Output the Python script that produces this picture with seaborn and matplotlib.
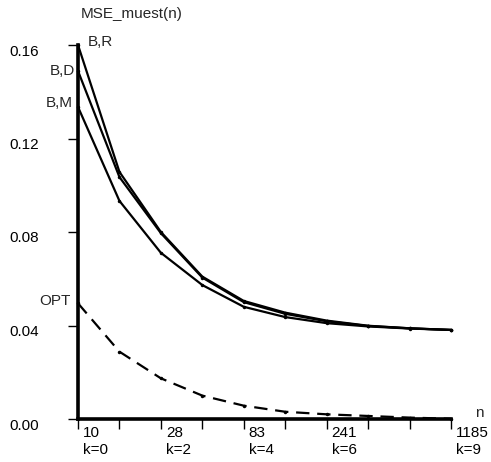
import matplotlib
matplotlib.use("Agg")
import matplotlib.pyplot as plt
import matplotlib.transforms as mtransforms
import seaborn as sns
import pandas as pd

k = [0, 1, 2, 3, 4, 5, 6, 7, 8, 9]
mse_BR = [0.1600, 0.1057, 0.0800, 0.0609, 0.0505, 0.0455, 0.0421, 0.0399, 0.0388, 0.0381]
mse_BD = [0.1489, 0.1035, 0.0795, 0.0605, 0.0500, 0.0450, 0.0418, 0.0398, 0.0388, 0.0381]
mse_BM = [0.1335, 0.0933, 0.0711, 0.0573, 0.0480, 0.0436, 0.0410, 0.0396, 0.0387, 0.0381]
mse_OPT = [0.0495, 0.0288, 0.0174, 0.0100, 0.0057, 0.0031, 0.0020, 0.0013, 0.0006, 0.0001]
series_names = ["B,R", "B,D", "B,M", "OPT"]
n_labels = ["10\nk=0", "", "28\nk=2", "", "83\nk=4", "", "241\nk=6", "", "", "1185\nk=9"]
y_ticks = [0.00, 0.04, 0.08, 0.12, 0.16]

df = pd.DataFrame({
    "k": k * 4,
    "mse": mse_BR + mse_BD + mse_BM + mse_OPT,
    "serie": sum([[s] * len(k) for s in series_names], []),
})

sns.set_style("ticks")
plt.rcParams["font.family"] = ["Liberation Sans", "DejaVu Sans"]
FS = 11

fig = plt.figure(figsize=(4.91, 4.62), dpi=100)
ax = fig.add_axes([78 / 491, 1 - 419 / 462, (451 - 78) / 491, (419 - 45) / 462])

sns.lineplot(data=df, x="k", y="mse", hue="serie", style="serie",
             palette={s: "black" for s in series_names},
             dashes={"B,R": "", "B,D": "", "B,M": "", "OPT": (6, 3.5)},
             markers={"B,R": "o", "B,D": "o", "B,M": "o", "OPT": "o"},
             markersize=2.5, markeredgewidth=0, linewidth=1.6,
             legend=False, ax=ax, clip_on=False)

ax.set_xlim(0, 9)
ax.set_ylim(0, 0.16)
for side in ["top", "right"]:
    ax.spines[side].set_visible(False)
for side in ["left", "bottom"]:
    ax.spines[side].set_linewidth(2.6)
    ax.spines[side].set_color("black")

ax.set_xticks(k)
ax.set_xticklabels(n_labels, ha="left", fontsize=FS, linespacing=1.25)
ax.set_yticks(y_ticks)
ax.set_yticklabels([f"{v:.2f}" for v in y_ticks], fontsize=FS)
ax.tick_params(axis="x", bottom=True, direction="out", length=7.5, width=1.0, pad=-2.5, colors="black")
ax.tick_params(axis="y", left=True, direction="out", length=7.5, width=1.0, pad=20, colors="black")
ax.set_xlabel("")
ax.set_ylabel("")

dx = mtransforms.ScaledTranslation(5 / 100, 0, fig.dpi_scale_trans)
for lab in ax.get_xticklabels():
    lab.set_transform(lab.get_transform() + dx)
dy = mtransforms.ScaledTranslation(-1 / 100, -5 / 100, fig.dpi_scale_trans)
for lab in ax.get_yticklabels():
    lab.set_transform(lab.get_transform() + dy)

ax.text((131.5 - 78) / 373, 1 + (45 - 14) / 374, "MSE_muest(n)", transform=ax.transAxes,
        ha="center", va="center", fontsize=FS)
ax.text((479 - 78) / 373, (419 - 413) / 374, "n", transform=ax.transAxes,
        ha="center", va="center", fontsize=FS)

ax.annotate("B,R", xy=(k[0], mse_BR[0]), xytext=(10, 3), textcoords="offset pixels",
            ha="left", va="center", fontsize=FS)
ax.annotate("B,D", xy=(k[0], mse_BD[0]), xytext=(-3, 0), textcoords="offset pixels",
            ha="right", va="center", fontsize=FS)
ax.annotate("B,M", xy=(k[0], mse_BM[0]), xytext=(-5, 4), textcoords="offset pixels",
            ha="right", va="center", fontsize=FS)
ax.annotate("OPT", xy=(k[0], mse_OPT[0]), xytext=(-7, 2), textcoords="offset pixels",
            ha="right", va="center", fontsize=FS)

fig.savefig("out.png", dpi=100, facecolor="white")
